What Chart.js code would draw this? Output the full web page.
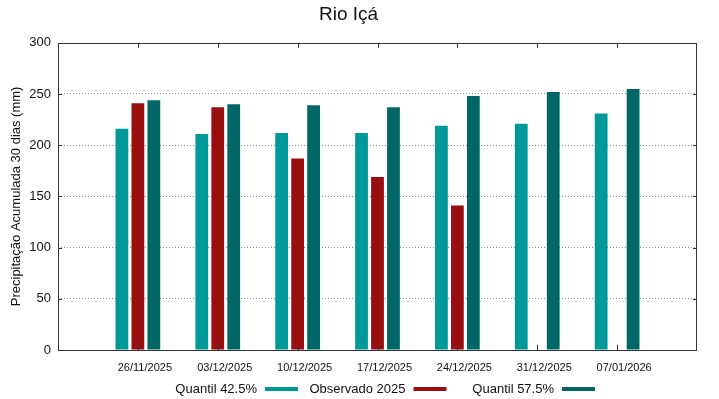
<!DOCTYPE html>
<html>
<head>
<meta charset="utf-8">
<script src="https://cdn.jsdelivr.net/npm/chart.js@4"></script>
<style>
    html, body { margin: 0; padding: 0; background: #fff; }
    #wrap { width: 719px; height: 399px; }
</style>
</head>
<body>
<div id="wrap"><canvas id="rioChart" width="719" height="399"></canvas></div>
<script>
const dates = ['26/11/2025', '03/12/2025', '10/12/2025', '17/12/2025', '24/12/2025', '31/12/2025', '07/01/2026'];
const quantil425 = [216, 211, 212, 212, 219, 221, 231];
const observado2025 = [241, 237, 187, 169, 141, null, null];
const quantil575 = [244, 240, 239, 237, 248, 252, 255];
const yTicks = [0, 50, 100, 150, 200, 250, 300];

const colors = ['#009999', '#990f0f', '#006666'];
const FONT = 'Liberation Sans, Arial, sans-serif';

// gnuplot leaves one empty slot on each side of the categories
const pad = arr => [null, ...arr, null];
const labels = ['', ...dates, ''];

// frame, inward ticks and legend in gnuplot style
const gnuplotDecor = {
    id: 'gnuplotDecor',
    afterDraw(chart) {
        const ctx = chart.ctx;
        const area = chart.chartArea;
        const x = chart.scales.x;
        const y = chart.scales.y;
        ctx.save();
        ctx.strokeStyle = '#333';
        ctx.lineWidth = 1;
        ctx.strokeRect(Math.round(area.left) + 0.5, Math.round(area.top) + 0.5,
            Math.round(area.right - area.left) - 1, Math.round(area.bottom - area.top));

        ctx.beginPath();
        dates.forEach((d, i) => {
            const px = Math.round(x.getPixelForValue(i + 1)) + 0.5;
            ctx.moveTo(px, area.bottom);
            ctx.lineTo(px, area.bottom - 5);
            ctx.moveTo(px, area.top);
            ctx.lineTo(px, area.top + 5);
        });
        yTicks.forEach(v => {
            const py = Math.round(y.getPixelForValue(v)) + 0.5;
            ctx.moveTo(area.left, py);
            ctx.lineTo(area.left + 4, py);
            ctx.moveTo(area.right, py);
            ctx.lineTo(area.right - 4, py);
        });
        ctx.stroke();

        // legend: text first, then the colour sample
        ctx.font = '13px ' + FONT;
        ctx.fillStyle = '#111';
        ctx.textAlign = 'right';
        ctx.textBaseline = 'middle';
        chart.data.datasets.forEach((ds, i) => {
            const sx = 265 + i * 148.5;
            ctx.fillText(ds.label, sx - 8, 389);
            ctx.fillStyle = ds.backgroundColor;
            ctx.fillRect(sx, 387, 33, 4);
            ctx.fillStyle = '#111';
        });
        ctx.restore();
    }
};

const ctx = document.getElementById('rioChart').getContext('2d');
new Chart(ctx, {
    type: 'bar',
    data: {
        labels: labels,
        datasets: [
            { label: 'Quantil 42.5%', data: pad(quantil425), backgroundColor: colors[0] },
            { label: 'Observado 2025', data: pad(observado2025), backgroundColor: colors[1] },
            { label: 'Quantil 57.5%', data: pad(quantil575), backgroundColor: colors[2] }
        ]
    },
    options: {
        responsive: false,
        animation: false,
        layout: { padding: { bottom: 20, right: 22 } },
        datasets: {
            bar: { categoryPercentage: 0.6, barPercentage: 0.8 }
        },
        plugins: {
            legend: { display: false },
            tooltip: { enabled: false },
            title: {
                display: true,
                text: 'Rio Içá',
                color: '#111',
                font: { family: FONT, size: 19, weight: 'normal' },
                padding: { top: 3, bottom: 17 }
            }
        },
        scales: {
            x: {
                type: 'category',
                offset: false,
                grid: { display: false, offset: false },
                border: { display: false },
                ticks: {
                    color: '#111',
                    font: { family: FONT, size: 11 },
                    padding: 3,
                    labelOffset: 7,
                    maxRotation: 0,
                    autoSkip: false
                },
                afterFit: scale => { scale.height = 29; }
            },
            y: {
                min: 0,
                max: 300,
                border: { display: false, dash: [1, 2] },
                grid: {
                    drawTicks: false,
                    lineWidth: 1,
                    color: c => (c.tick && (c.tick.value === 0 || c.tick.value === 300)) ? 'rgba(0,0,0,0)' : '#8a8a8a'
                },
                ticks: {
                    stepSize: 50,
                    color: '#111',
                    font: { family: FONT, size: 13 },
                    padding: 7
                },
                title: {
                    display: true,
                    text: 'Precipitação Acumulada 30 dias (mm)',
                    color: '#111',
                    font: { family: FONT, size: 13 },
                    padding: { top: 9, bottom: 0 }
                },
                afterFit: scale => { scale.width = 58; }
            }
        }
    },
    plugins: [gnuplotDecor]
});
</script>
</body>
</html>
